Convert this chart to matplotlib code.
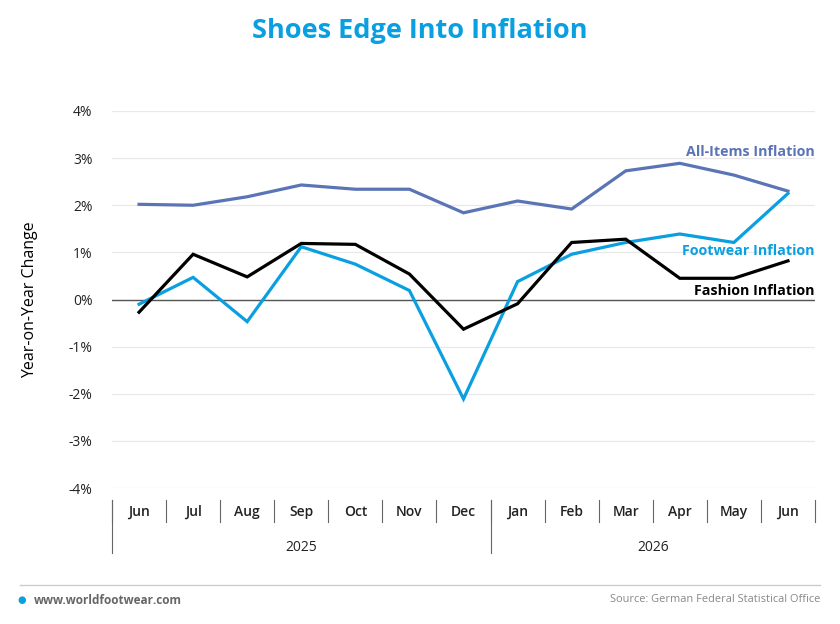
import numpy as np
import matplotlib
matplotlib.use("Agg")
from matplotlib import pyplot as plt
from matplotlib.transforms import blended_transform_factory

plt.rcParams['font.family'] = ['Open Sans', 'DejaVu Sans']

months = ['Jun', 'Jul', 'Aug', 'Sep', 'Oct', 'Nov', 'Dec',
          'Jan', 'Feb', 'Mar', 'Apr', 'May', 'Jun']
years = ['2025', '2026']
year_counts = [7, 6]

all_items = [2.02, 2.00, 2.18, 2.43, 2.34, 2.34, 1.84, 2.09, 1.92, 2.73, 2.89, 2.64, 2.30]
footwear = [-0.10, 0.47, -0.47, 1.12, 0.75, 0.19, -2.11, 0.38, 0.96, 1.21, 1.39, 1.21, 2.25]
fashion = [-0.27, 0.96, 0.48, 1.19, 1.17, 0.54, -0.63, -0.09, 1.21, 1.28, 0.45, 0.45, 0.82]

yticks = [4, 3, 2, 1, 0, -1, -2, -3, -4]

C_ALL = '#5b74b6'
C_FOOT = '#0a9fe0'
C_FASH = '#000000'

fig = plt.figure(figsize=(8.4, 6.24), dpi=100)
ax = fig.add_axes([112/840, 1-488/624, (815-112)/840, (488-111)/624])

x = np.arange(len(months))
ax.plot(x, all_items, color=C_ALL, lw=2.3, solid_joinstyle='miter', zorder=3)
ax.plot(x, footwear, color=C_FOOT, lw=2.3, solid_joinstyle='miter', zorder=4)
ax.plot(x, fashion, color=C_FASH, lw=2.3, solid_joinstyle='miter', zorder=5)

ax.set_xlim(-0.5, len(months) - 0.5)
ax.set_ylim(-4, 4)
ax.set_yticks(yticks)
ax.set_yticklabels([f'{v}%' for v in yticks], fontsize=10, color='#222222')
ax.tick_params(axis='y', length=0, pad=14)
ax.grid(axis='y', color='#e8e8e8', lw=0.9)
ax.axhline(0, color='#555555', lw=1.0, zorder=2)
for s in ax.spines.values():
    s.set_visible(False)
ax.set_xticks([])
ax.set_ylabel('Year-on-Year Change', fontsize=11.5, fontweight='medium', labelpad=22)

# category axis below
tr = blended_transform_factory(ax.transData, ax.transAxes)
for i, m in enumerate(months):
    ax.text(i, -0.064, m, transform=tr, ha='center', va='center',
            fontsize=10, fontweight='semibold', color='#222222')
for i in range(len(months) + 1):
    ax.plot([i - 0.5, i - 0.5], [-0.032, -0.09], transform=tr, color='#666666',
            lw=0.8, clip_on=False)
start = 0
for yr, n in zip(years, year_counts):
    ax.plot([start - 0.5, start - 0.5], [-0.032, -0.172], transform=tr,
            color='#666666', lw=0.8, clip_on=False)
    ax.text(start + (n - 1) / 2, -0.157, yr, transform=tr, ha='center', va='center',
            fontsize=10, color='#222222')
    start += n

# series labels
ax.text(len(months) - 0.5, 3.13, 'All-Items Inflation', ha='right', va='center',
        color=C_ALL, fontsize=10.3, fontweight='bold')
ax.text(len(months) - 0.5, 1.03, 'Footwear Inflation', ha='right', va='center',
        color=C_FOOT, fontsize=10.3, fontweight='bold')
ax.text(len(months) - 0.5, 0.18, 'Fashion Inflation', ha='right', va='center',
        color=C_FASH, fontsize=10.3, fontweight='bold')

fig.text(0.5, 1 - 31/624, 'Shoes Edge Into Inflation', ha='center', va='center',
         fontsize=19.5, fontweight='bold', color='#0a9fe0')

# footer
fig.add_artist(plt.Line2D([20/840, 820/840], [1 - 585/624, 1 - 585/624],
                          color='#cccccc', lw=1.0))
fig.text(22/840, 1 - 600/624, '\u25cf', ha='center', va='center', fontsize=7,
         color='#0a9fe0', family='DejaVu Sans')
fig.text(34/840, 1 - 600/624, 'www.worldfootwear.com', ha='left', va='center',
         fontsize=8.5, fontweight='bold', color='#666666')
fig.text(820/840, 1 - 600/624, 'Source: German Federal Statistical Office', ha='right',
         va='center', fontsize=7.9, color='#888888')

fig.savefig('out.png', dpi=100)
